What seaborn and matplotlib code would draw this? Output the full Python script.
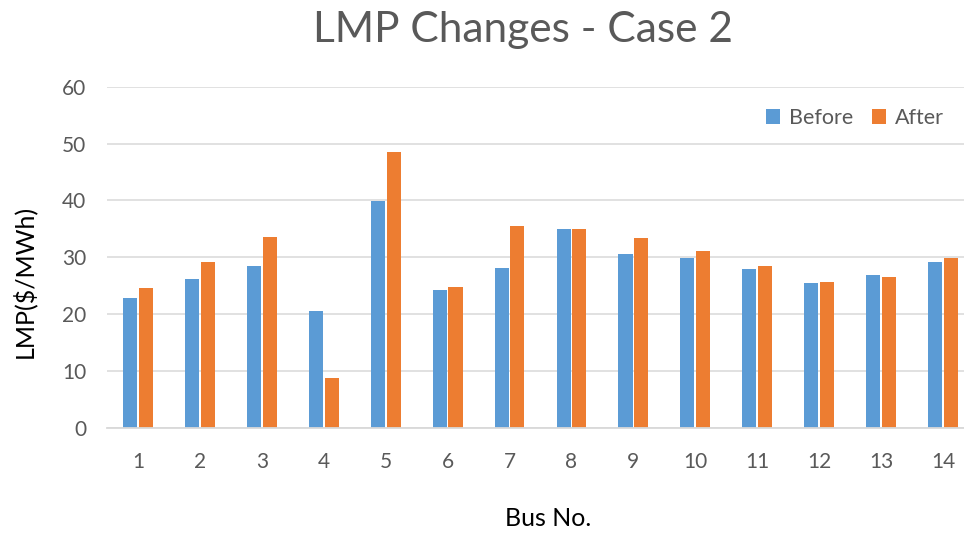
import matplotlib
matplotlib.use("Agg")
import matplotlib.pyplot as plt
import seaborn as sns
import pandas as pd

buses = ["1", "2", "3", "4", "5", "6", "7", "8", "9", "10", "11", "12", "13", "14"]
before = [22.9, 26.2, 28.5, 20.5, 39.9, 24.3, 28.1, 35.0, 30.5, 29.9, 27.9, 25.5, 26.8, 29.2]
after = [24.5, 29.2, 33.5, 8.8, 48.5, 24.7, 35.5, 35.0, 33.4, 31.1, 28.4, 25.6, 26.5, 29.9]
series = ["Before", "After"]
colors = ["#5B9BD5", "#ED7D31"]
yticks = [0, 10, 20, 30, 40, 50, 60]

df = pd.DataFrame({
    "Bus": buses * 2,
    "Series": ["Before"] * len(buses) + ["After"] * len(buses),
    "LMP": before + after,
})

sns.set_theme(style="white")
plt.rcParams["font.family"] = ["Lato", "DejaVu Sans"]

W, H = 964, 533
fig = plt.figure(figsize=(W / 100, H / 100), dpi=100)
left, right, top, bottom = 107, 974, 87, 427.5
ax = fig.add_axes([left / W, 1 - bottom / H, (right - left) / W, (bottom - top) / H])

sns.barplot(data=df, x="Bus", y="LMP", hue="Series", hue_order=series,
            order=buses, palette=colors, width=0.51, gap=0.11,
            linewidth=0, saturation=1, errorbar=None, ax=ax)

ax.set_xlim(-0.5, len(buses) - 0.5)
ax.set_ylim(0, 60)
ax.set_yticks(yticks)
ax.yaxis.grid(True, color="#D9D9D9", linewidth=1.1)
ax.set_axisbelow(True)
for s in ["left", "right", "top"]:
    ax.spines[s].set_visible(False)
ax.spines["bottom"].set_color("#D9D9D9")
ax.spines["bottom"].set_linewidth(1.3)
ax.tick_params(axis="both", length=0, labelsize=15, labelcolor="#595959")
ax.tick_params(axis="y", pad=15)
ax.tick_params(axis="x", pad=18)
ax.set_xlabel("")
ax.set_ylabel("")

handles, labels = ax.get_legend_handles_labels()
ax.legend(handles, labels, loc="center right", bbox_to_anchor=(944 / W, 1 - 118 / H),
          bbox_transform=fig.transFigure, ncol=2, frameon=False, fontsize=15.5,
          handlelength=0.65, handleheight=0.65, handletextpad=0.4, columnspacing=0.9,
          borderpad=0, borderaxespad=0, labelcolor="#595959")

fig.text(523 / W, 1 - 42 / H, "LMP Changes - Case 2", ha="center", va="baseline",
         fontsize=30.5, color="#595959")
fig.text(548 / W, 1 - 519 / H, "Bus No.", ha="center", va="center",
         fontsize=18, color="black")
fig.text(24 / W, 1 - 281 / H, "LMP($/MWh)", ha="center", va="center",
         rotation=90, fontsize=18, color="black")

fig.savefig("out.png", dpi=100)
